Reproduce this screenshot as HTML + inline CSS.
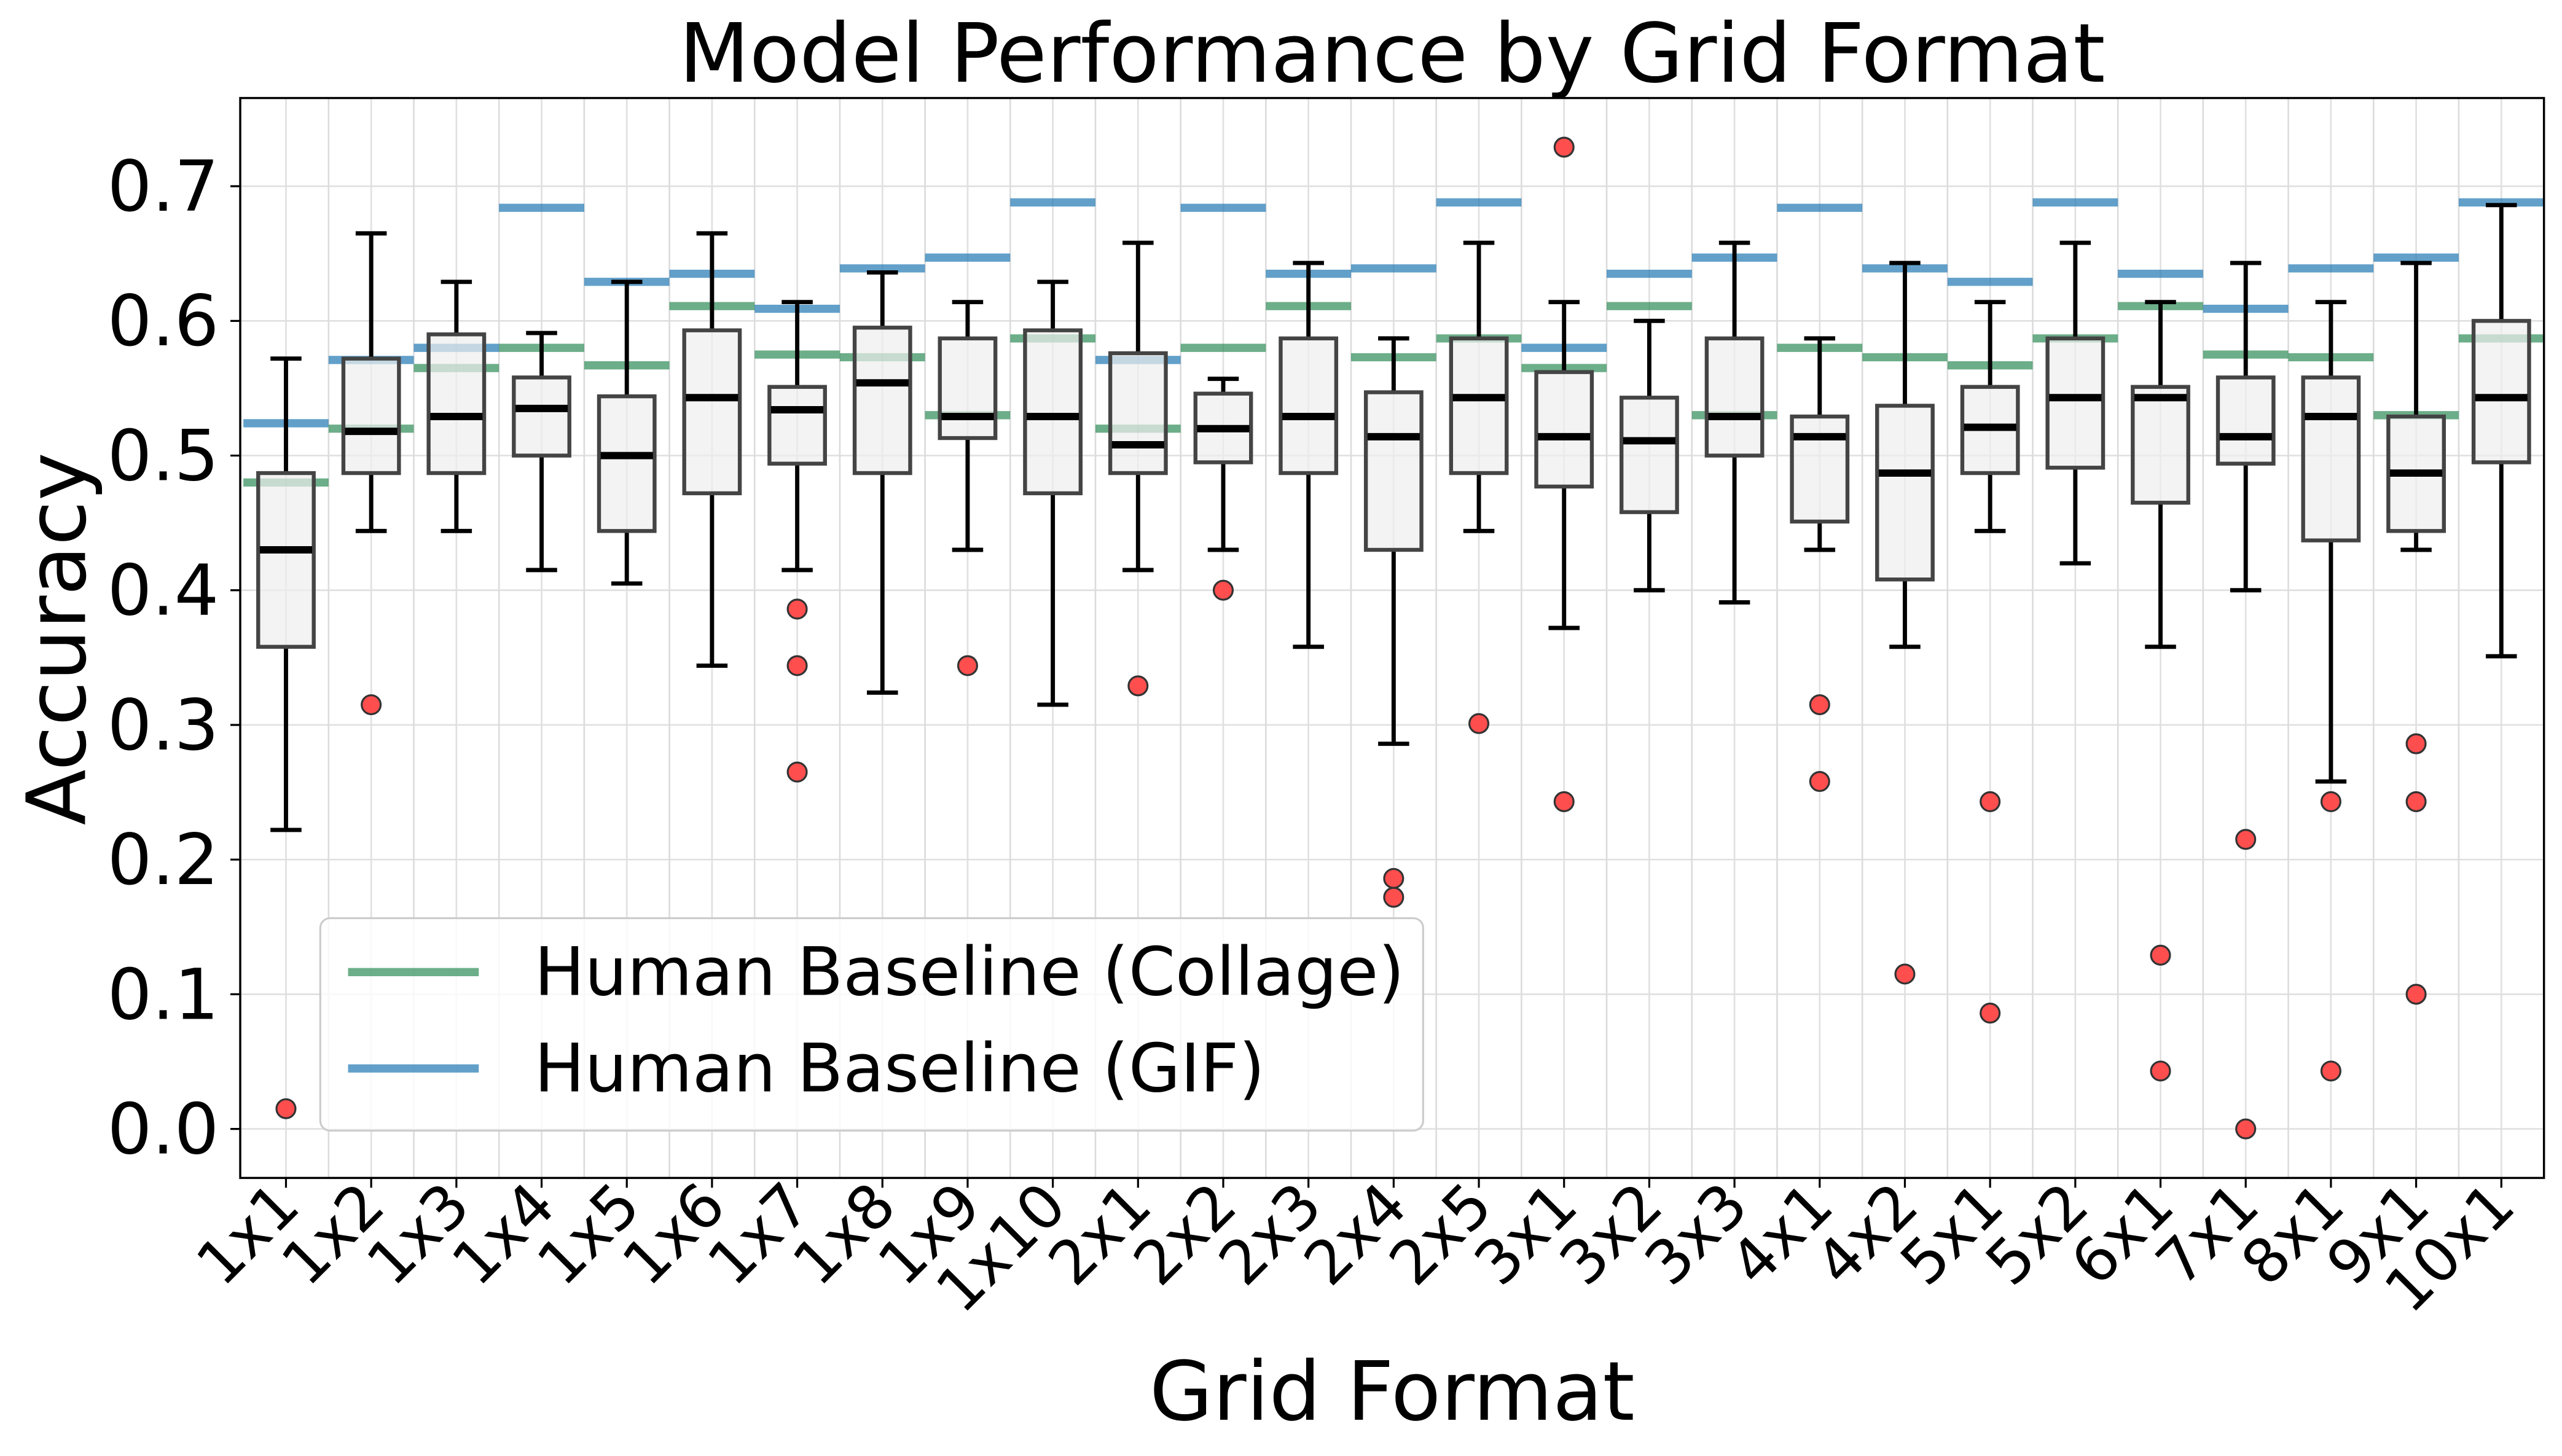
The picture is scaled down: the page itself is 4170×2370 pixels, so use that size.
<!DOCTYPE html>
<html><head><meta charset="utf-8"><style>
html,body{margin:0;padding:0;background:#fff}
svg{display:block}
text{font-family:"DejaVu Sans","Liberation Sans",sans-serif;fill:#000}
</style></head><body>
<svg id="s" width="4170" height="2370" viewBox="0 0 1568 891.2" xmlns="http://www.w3.org/2000/svg">
<rect width="1568" height="892" fill="#fff"/>
<g id="grid"></g>
<g id="base"></g>
<g id="boxes"></g>
<rect x="147" y="60" width="1410" height="661" fill="none" stroke="#000" stroke-width="1.3"/>
<g id="ticks"></g>
<text x="852" y="50" font-size="50" text-anchor="middle">Model Performance by Grid Format</text>
<text x="852" y="869" font-size="50" text-anchor="middle">Grid Format</text>
<text transform="translate(52,391) rotate(-90)" font-size="50" text-anchor="middle">Accuracy</text>
<rect x="196" y="562" width="675" height="130" rx="6" fill="#fff" fill-opacity="0.8" stroke="#ccc" stroke-width="1.2"/>
<line x1="213" y1="595" x2="293" y2="595" stroke="#2E8B57" stroke-opacity="0.7" stroke-width="5"/>
<line x1="213" y1="654" x2="293" y2="654" stroke="#1f77b4" stroke-opacity="0.7" stroke-width="5"/>
<text x="327" y="609" font-size="41">Human Baseline (Collage)</text>
<text x="327" y="668" font-size="41">Human Baseline (GIF)</text>
</svg>
<script>
const D=[
["1x1",.572,.487,.43,.358,.222,[.015],.48,.524],
["1x2",.665,.572,.518,.487,.444,[.315],.52,.571],
["1x3",.629,.59,.529,.487,.444,[],.565,.58],
["1x4",.591,.558,.535,.5,.415,[],.58,.684],
["1x5",.629,.544,.5,.444,.405,[],.567,.629],
["1x6",.665,.593,.543,.472,.344,[],.611,.635],
["1x7",.614,.551,.534,.494,.415,[.386,.344,.265],.575,.609],
["1x8",.636,.595,.554,.487,.324,[],.573,.639],
["1x9",.614,.587,.529,.513,.43,[.344],.53,.647],
["1x10",.629,.593,.529,.472,.315,[],.587,.688],
["2x1",.658,.576,.508,.487,.415,[.329],.52,.571],
["2x2",.557,.546,.52,.495,.43,[.4],.58,.684],
["2x3",.643,.587,.529,.487,.358,[],.611,.635],
["2x4",.587,.547,.514,.43,.286,[.186,.172],.573,.639],
["2x5",.658,.587,.543,.487,.444,[.301],.587,.688],
["3x1",.614,.562,.514,.477,.372,[.729,.243],.565,.58],
["3x2",.6,.543,.511,.458,.4,[],.611,.635],
["3x3",.658,.587,.529,.5,.391,[],.53,.647],
["4x1",.587,.529,.514,.451,.43,[.315,.258],.58,.684],
["4x2",.643,.537,.487,.408,.358,[.115],.573,.639],
["5x1",.614,.551,.521,.487,.444,[.243,.086],.567,.629],
["5x2",.658,.587,.543,.491,.42,[],.587,.688],
["6x1",.614,.551,.543,.465,.358,[.129,.043],.611,.635],
["7x1",.643,.558,.514,.494,.4,[.215,0],.575,.609],
["8x1",.614,.558,.529,.437,.258,[.243,.043],.573,.639],
["9x1",.643,.529,.487,.444,.43,[.286,.243,.1],.53,.647],
["10x1",.686,.6,.543,.495,.351,[],.587,.688]];
const S=52.15, Y=v=>691-v*824.3, X=i=>175+i*S, H=S/2;
let g='',b='',bx='',t='';
for(let k=0;k<=7;k++){const y=Y(k/10);g+=`<line x1="147" x2="1557" y1="${y}" y2="${y}" stroke="#e0e0e0" stroke-width="1"/>`;
t+=`<line x1="141" x2="147" y1="${y}" y2="${y}" stroke="#000" stroke-width="1.2"/><text x="134" y="${y+15}" font-size="43" text-anchor="end">${(k/10).toFixed(1)}</text>`;}
D.forEach((d,i)=>{const x=X(i);
g+=`<line x1="${x}" x2="${x}" y1="60" y2="721" stroke="#e0e0e0" stroke-width="1"/>`;
g+=`<line x1="${x+H}" x2="${x+H}" y1="60" y2="721" stroke="#dcdcdc" stroke-width="1"/>`;
b+=`<line x1="${x-H}" x2="${x+H}" y1="${Y(d[7])}" y2="${Y(d[7])}" stroke="#2E8B57" stroke-opacity="0.7" stroke-width="5"/>`;
b+=`<line x1="${x-H}" x2="${x+H}" y1="${Y(d[8])}" y2="${Y(d[8])}" stroke="#1f77b4" stroke-opacity="0.7" stroke-width="5"/>`;
bx+=`<line x1="${x}" x2="${x}" y1="${Y(d[1])}" y2="${Y(d[2])}" stroke="#000" stroke-width="2.6"/><line x1="${x}" x2="${x}" y1="${Y(d[4])}" y2="${Y(d[5])}" stroke="#000" stroke-width="2.6"/>`;
bx+=`<line x1="${x-9.5}" x2="${x+9.5}" y1="${Y(d[1])}" y2="${Y(d[1])}" stroke="#000" stroke-width="2.6"/><line x1="${x-9.5}" x2="${x+9.5}" y1="${Y(d[5])}" y2="${Y(d[5])}" stroke="#000" stroke-width="2.6"/>`;
bx+=`<rect x="${x-17}" y="${Y(d[2])}" width="34" height="${Y(d[4])-Y(d[2])}" fill="#eeeeee" fill-opacity="0.7" stroke="#444" stroke-width="2.4"/>`;
bx+=`<line x1="${x-16}" x2="${x+16}" y1="${Y(d[3])}" y2="${Y(d[3])}" stroke="#000" stroke-width="4.5"/>`;
d[6].forEach(o=>bx+=`<circle cx="${x}" cy="${Y(o)}" r="5.8" fill="#ff4444" fill-opacity="0.95" stroke="#333" stroke-width="1.2"/>`);
t+=`<line x1="${x}" x2="${x}" y1="721" y2="727" stroke="#000" stroke-width="1.2"/><text transform="translate(${x+10},${740}) rotate(-45)" font-size="37" text-anchor="end">${d[0]}</text>`;
});
document.getElementById('grid').innerHTML=g;document.getElementById('base').innerHTML=b;
document.getElementById('boxes').innerHTML=bx;document.getElementById('ticks').innerHTML=t;
</script>
</body></html>
